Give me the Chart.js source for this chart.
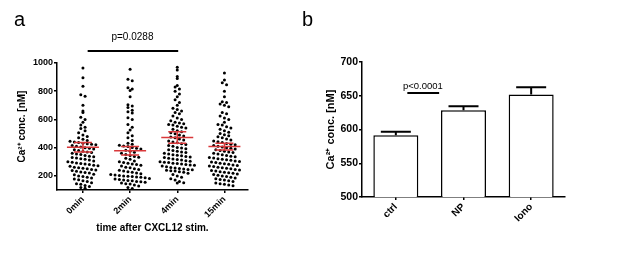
<!DOCTYPE html>
<html>
<head>
<meta charset="utf-8">
<script src="https://cdn.jsdelivr.net/npm/chart.js@4"></script>
<style>
  body { margin: 0; background: #fff; }
  #wrapA { position: absolute; left: 0; top: 0; width: 300px; height: 255px; }
  #wrapB { position: absolute; left: 300px; top: 0; width: 317px; height: 255px; }
</style>
</head>
<body>
<div id="wrapA"><canvas id="chartA" width="300" height="255"></canvas></div>
<div id="wrapB"><canvas id="chartB" width="317" height="255"></canvas></div>
<script>
// panel a: single-cell Ca2+ values per time point
const timeLabels = ['0min', '2min', '4min', '15min'];
const vals0 = [965, 895, 835, 775, 765, 700, 660, 650, 615, 600, 580, 560, 545, 535, 520, 505, 490, 480, 470, 460, 450, 445, 440, 436, 432, 428, 424, 420, 415, 410, 405, 400, 395, 390, 385, 380, 375, 370, 365, 360, 356, 352, 345, 340, 335, 330, 326, 322, 318, 312, 305, 300, 296, 292, 288, 284, 280, 276, 272, 268, 262, 258, 254, 250, 246, 242, 238, 232, 228, 224, 220, 212, 208, 200, 195, 190, 185, 178, 172, 165, 160, 152, 145, 140, 132, 125, 118, 112];
const vals2 = [955, 885, 875, 825, 815, 805, 760, 705, 695, 685, 665, 655, 645, 612, 600, 565, 545, 525, 505, 485, 470, 450, 432, 425, 418, 412, 408, 402, 396, 390, 382, 375, 368, 360, 352, 345, 338, 332, 325, 318, 305, 300, 295, 290, 285, 280, 275, 270, 262, 258, 250, 245, 240, 235, 230, 225, 220, 215, 210, 206, 203, 200, 198, 196, 193, 190, 186, 182, 178, 175, 170, 168, 165, 160, 158, 155, 150, 145, 142, 135, 128, 118, 110];
const vals4 = [970, 950, 905, 890, 840, 830, 815, 800, 780, 760, 740, 720, 700, 680, 670, 660, 650, 640, 625, 610, 600, 590, 580, 575, 570, 565, 560, 552, 545, 540, 530, 520, 512, 505, 498, 490, 482, 475, 470, 462, 455, 448, 440, 435, 428, 422, 415, 410, 402, 398, 392, 386, 380, 375, 370, 365, 360, 355, 350, 346, 342, 338, 334, 330, 325, 320, 316, 312, 308, 304, 300, 297, 294, 290, 287, 284, 281, 278, 275, 270, 265, 260, 256, 252, 249, 246, 243, 240, 237, 234, 230, 225, 218, 210, 200, 190, 180, 170, 160, 152, 150];
const vals15 = [930, 880, 860, 845, 800, 760, 725, 720, 710, 700, 690, 650, 640, 625, 610, 600, 580, 565, 560, 548, 540, 530, 520, 510, 500, 492, 485, 478, 470, 462, 455, 448, 442, 436, 430, 425, 420, 415, 410, 405, 400, 395, 390, 385, 380, 375, 370, 365, 360, 355, 350, 345, 340, 335, 330, 326, 322, 318, 314, 310, 306, 302, 298, 294, 290, 286, 282, 278, 274, 270, 266, 262, 258, 254, 250, 246, 242, 238, 234, 230, 226, 222, 218, 214, 210, 205, 200, 195, 190, 185, 180, 175, 170, 165, 160, 150, 145, 140, 135, 130];
const groupMeans = [403, 378, 472, 408];
const groupSem = [34, 30, 40, 24];
const yTicksA = [200, 400, 600, 800, 1000];

// panel b: bar means with SEM
const barLabels = ['ctrl', 'NP', 'Iono'];
const barMeans = [591.5, 628.5, 652];
const barSem = [5, 6, 10.5];
const yTicksB = [500, 550, 600, 650, 700];

const FONT = "'Liberation Sans', Arial, sans-serif";
const allGroups = [vals0, vals2, vals4, vals15];

// mean + SEM lines and the annotations for panel a
const panelAExtras = {
  id: 'panelAExtras',
  afterDatasetsDraw(chart) {
    const ctx = chart.ctx;
    const xs = chart.scales.x, ys = chart.scales.y;
    ctx.save();
    ctx.strokeStyle = '#d9383a';
    ctx.lineWidth = 1.5;
    groupMeans.forEach((m, i) => {
      const x = xs.getPixelForValue(i);
      const ym = ys.getPixelForValue(m);
      const yt = ys.getPixelForValue(m + groupSem[i]);
      const yb = ys.getPixelForValue(m - groupSem[i]);
      ctx.beginPath();
      ctx.moveTo(x - 16, ym); ctx.lineTo(x + 16, ym);
      ctx.moveTo(x, yt); ctx.lineTo(x, yb);
      ctx.moveTo(x - 9, yt); ctx.lineTo(x + 9, yt);
      ctx.moveTo(x - 9, yb); ctx.lineTo(x + 9, yb);
      ctx.stroke();
    });
    ctx.restore();
  },
  afterDraw(chart) {
    const ctx = chart.ctx;
    const xs = chart.scales.x;
    ctx.save();
    ctx.fillStyle = '#000';
    ctx.font = '20px ' + FONT;
    ctx.textBaseline = 'alphabetic';
    ctx.fillText('a', 14, 26);
    ctx.font = '10px ' + FONT;
    ctx.textAlign = 'center';
    ctx.textBaseline = 'middle';
    ctx.fillText('p=0.0288', xs.getPixelForValue(1.05), 37);
    ctx.strokeStyle = '#000';
    ctx.lineWidth = 2;
    ctx.beginPath();
    ctx.moveTo(xs.getPixelForValue(0.1), 51);
    ctx.lineTo(xs.getPixelForValue(2.02), 51);
    ctx.stroke();
    ctx.restore();
  }
};

const chartA = new Chart(document.getElementById('chartA'), {
  type: 'scatter',
  data: {
    datasets: [{
      data: allGroups.flatMap((g, i) => g.map(v => ({ x: i, y: v }))),
      backgroundColor: '#000',
      borderWidth: 0,
      pointRadius: 1.5
    }]
  },
  options: {
    responsive: false,
    animation: false,
    layout: { padding: { left: 12, top: 63, right: 52, bottom: 17 } },
    plugins: { legend: { display: false }, tooltip: { enabled: false } },
    scales: {
      x: {
        type: 'linear',
        min: -0.55,
        max: 3.5,
        afterBuildTicks: (s) => { s.ticks = timeLabels.map((_, i) => ({ value: i })); },
        afterFit: (s) => { s.height = 48; },
        border: { color: '#000', width: 1.5 },
        grid: { drawOnChartArea: false, color: '#000', lineWidth: 1.5, tickLength: 3 },
        ticks: {
          color: '#000', padding: 1, minRotation: 45, maxRotation: 45,
          font: { family: FONT, size: 9, weight: 'bold' },
          callback: (v) => timeLabels[v]
        },
        title: {
          display: true, text: 'time after CXCL12 stim.', color: '#000',
          font: { family: FONT, size: 10, weight: 'bold' }, padding: 4
        }
      },
      y: {
        min: 100,
        max: 1000,
        afterBuildTicks: (s) => { s.ticks = yTicksA.map(v => ({ value: v })); },
        afterFit: (s) => { s.width = 45; },
        border: { color: '#000', width: 1.5 },
        grid: { drawOnChartArea: false, color: '#000', lineWidth: 1.5, tickLength: 3 },
        ticks: {
          color: '#000', padding: 1, font: { family: FONT, size: 9, weight: 'bold' },
          callback: (v) => String(v)
        },
        title: {
          display: true, text: 'Ca²⁺ conc. [nM]', color: '#000',
          font: { family: FONT, size: 10, weight: 'bold' }, padding: 4
        }
      }
    }
  },
  plugins: [panelAExtras]
});

// scatter-dot layout: group values into pixel rows, centre each row on the category
function rowOffsets(values, ys, rowH, gap) {
  const rows = {};
  values.forEach((v, j) => {
    const r = Math.round(ys.getPixelForValue(v) / rowH);
    (rows[r] = rows[r] || []).push(j);
  });
  const offs = new Array(values.length).fill(0);
  Object.values(rows).forEach(idx => {
    idx.forEach((j, k) => { offs[j] = (k - (idx.length - 1) / 2) * gap; });
  });
  return offs;
}

(function layoutDots() {
  const xs = chartA.scales.x, ys = chartA.scales.y;
  const unit = xs.getPixelForValue(1) - xs.getPixelForValue(0);
  const pts = [];
  allGroups.forEach((g, i) => {
    const offs = rowOffsets(g, ys, 4.2, 4.3);
    g.forEach((v, j) => pts.push({ x: i + offs[j] / unit, y: v }));
  });
  chartA.data.datasets[0].data = pts;
  chartA.update();
})();

// error bars and annotations for panel b
const panelBExtras = {
  id: 'panelBExtras',
  afterDatasetsDraw(chart) {
    const ctx = chart.ctx;
    const ys = chart.scales.y;
    const meta = chart.getDatasetMeta(0);
    ctx.save();
    ctx.strokeStyle = '#000';
    ctx.lineWidth = 2;
    meta.data.forEach((bar, i) => {
      const top = ys.getPixelForValue(barMeans[i]);
      const errTop = ys.getPixelForValue(barMeans[i] + barSem[i]);
      ctx.beginPath();
      ctx.moveTo(bar.x, top); ctx.lineTo(bar.x, errTop);
      ctx.moveTo(bar.x - 15, errTop); ctx.lineTo(bar.x + 15, errTop);
      ctx.stroke();
    });
    ctx.restore();
  },
  afterDraw(chart) {
    const ctx = chart.ctx;
    const xs = chart.scales.x;
    ctx.save();
    ctx.fillStyle = '#000';
    ctx.font = '20px ' + FONT;
    ctx.fillText('b', 2, 26);
    ctx.font = '9.5px ' + FONT;
    ctx.textAlign = 'center';
    ctx.textBaseline = 'middle';
    ctx.fillText('p<0.0001', xs.getPixelForValue(0.4), 86);
    ctx.strokeStyle = '#000';
    ctx.lineWidth = 2;
    ctx.beginPath();
    ctx.moveTo(xs.getPixelForValue(0.17), 93);
    ctx.lineTo(xs.getPixelForValue(0.64), 93);
    ctx.stroke();
    ctx.restore();
  }
};

new Chart(document.getElementById('chartB'), {
  type: 'bar',
  data: {
    labels: barLabels,
    datasets: [{
      data: barMeans,
      backgroundColor: '#fff',
      borderColor: '#000',
      borderWidth: 1.5,
      categoryPercentage: 1,
      barPercentage: 0.665
    }]
  },
  options: {
    responsive: false,
    animation: false,
    layout: { padding: { left: 20, top: 62, right: 52, bottom: 10 } },
    plugins: { legend: { display: false }, tooltip: { enabled: false } },
    scales: {
      x: {
        afterFit: (s) => { s.height = 48; },
        border: { color: '#000', width: 1.5 },
        grid: { drawOnChartArea: false, offset: false, color: '#000', lineWidth: 1.5, tickLength: 3 },
        ticks: {
          color: '#000', padding: 1, minRotation: 45, maxRotation: 45,
          font: { family: FONT, size: 10, weight: 'bold' }
        }
      },
      y: {
        min: 500,
        max: 700,
        afterBuildTicks: (s) => { s.ticks = yTicksB.map(v => ({ value: v })); },
        afterFit: (s) => { s.width = 42; },
        border: { color: '#000', width: 1.5 },
        grid: { drawOnChartArea: false, color: '#000', lineWidth: 1.5, tickLength: 3 },
        ticks: { color: '#000', padding: 1, font: { family: FONT, size: 10.5, weight: 'bold' } },
        title: {
          display: true, text: 'Ca²⁺ conc. [nM]', color: '#000',
          font: { family: FONT, size: 11, weight: 'bold' }, padding: 4
        }
      }
    }
  },
  plugins: [panelBExtras]
});
</script>
</body>
</html>
